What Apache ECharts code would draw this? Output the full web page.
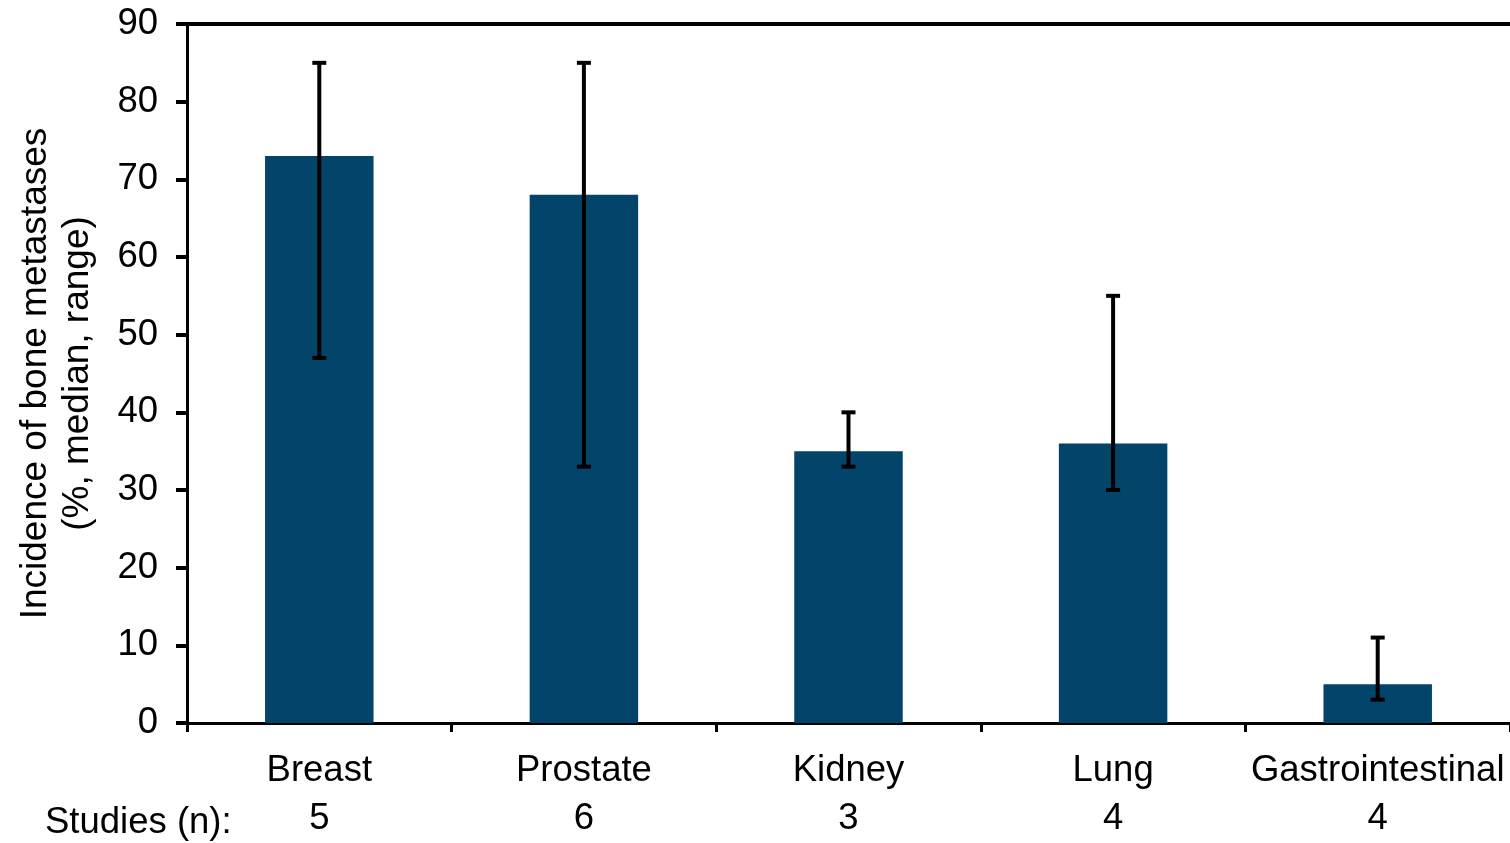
<!DOCTYPE html>
<html>
<head>
<meta charset="utf-8">
<title>Incidence of bone metastases</title>
<script src="https://cdn.jsdelivr.net/npm/echarts@6/dist/echarts.min.js"></script>
<style>
  html, body { margin: 0; padding: 0; background: #ffffff; }
  #chart { width: 1510px; height: 843px; }
</style>
</head>
<body>
<div id="chart"></div>
<script>
// Primary tumour types and number of studies per type
const categories = ['Breast', 'Prostate', 'Kidney', 'Lung', 'Gastrointestinal'];
const studies = [5, 6, 3, 4, 4];

// Median incidence (%) and reported range
const medians = [73, 68, 35, 36, 5];
const rangeLow = [47, 33, 33, 30, 3];
const rangeHigh = [85, 85, 40, 55, 11];

// Y axis scale
const yMin = 0;
const yMax = 90;
const yStep = 10;

const FONT = '"Liberation Sans", Arial, sans-serif';
const FONT_SIZE = 36.5;
const BAR_COLOR = '#02446A';

const chart = echarts.init(document.getElementById('chart'), null, { renderer: 'canvas' });

const axisLabels = categories.map((c, i) => c + '\n' + studies[i]);
const errorData = categories.map((c, i) => [i, rangeLow[i], rangeHigh[i]]);

// Vertical range whisker with flat caps at both ends
function renderRange(params, api) {
  const x = api.value(0);
  const lo = api.coord([x, api.value(1)]);
  const hi = api.coord([x, api.value(2)]);
  const half = 7;
  const style = { stroke: '#000000', lineWidth: 4 };
  return {
    type: 'group',
    children: [
      { type: 'line', shape: { x1: hi[0], y1: hi[1], x2: lo[0], y2: lo[1] }, style: style },
      { type: 'line', shape: { x1: hi[0] - half, y1: hi[1], x2: hi[0] + half, y2: hi[1] }, style: style },
      { type: 'line', shape: { x1: lo[0] - half, y1: lo[1], x2: lo[0] + half, y2: lo[1] }, style: style }
    ]
  };
}

chart.setOption({
  animation: false,
  backgroundColor: '#ffffff',
  textStyle: { fontFamily: FONT },
  grid: { left: 187, right: 0, top: 24, bottom: 113, containLabel: false },
  xAxis: [
    {
      type: 'category',
      data: axisLabels,
      boundaryGap: true,
      axisLine: { show: true, lineStyle: { color: '#000000', width: 3 } },
      axisTick: { show: true, alignWithLabel: false, inside: false, length: 9, lineStyle: { color: '#000000', width: 3 } },
      axisLabel: {
        show: true,
        interval: 0,
        color: '#000000',
        fontFamily: FONT,
        fontSize: FONT_SIZE,
        lineHeight: 48,
        margin: 24,
        align: 'center'
      },
      splitLine: { show: false }
    },
    {
      // frame line along the top of the plot
      type: 'category',
      position: 'top',
      data: axisLabels,
      axisLine: { show: true, lineStyle: { color: '#000000', width: 4 } },
      axisTick: { show: false },
      axisLabel: { show: false },
      splitLine: { show: false }
    }
  ],
  yAxis: {
    type: 'value',
    min: yMin,
    max: yMax,
    interval: yStep,
    name: 'Incidence of bone metastases\n(%, median, range)',
    nameLocation: 'middle',
    nameRotate: 90,
    nameGap: 88,
    nameTextStyle: { color: '#000000', fontFamily: FONT, fontSize: 37, lineHeight: 42 },
    axisLine: { show: true, lineStyle: { color: '#000000', width: 3 } },
    axisTick: { show: true, inside: false, length: 11, lineStyle: { color: '#000000', width: 4 } },
    axisLabel: { color: '#000000', fontFamily: FONT, fontSize: FONT_SIZE, margin: 29 },
    splitLine: { show: false }
  },
  series: [
    {
      type: 'bar',
      data: medians,
      barWidth: '41%',
      itemStyle: { color: BAR_COLOR },
      z: 2
    },
    {
      type: 'custom',
      renderItem: renderRange,
      data: errorData,
      encode: { x: 0, y: [1, 2] },
      z: 5
    }
  ],
  graphic: [
    {
      type: 'text',
      left: 45,
      top: 804,
      style: { text: 'Studies (n):', fill: '#000000', font: FONT_SIZE + 'px ' + FONT }
    }
  ]
});
</script>
</body>
</html>
